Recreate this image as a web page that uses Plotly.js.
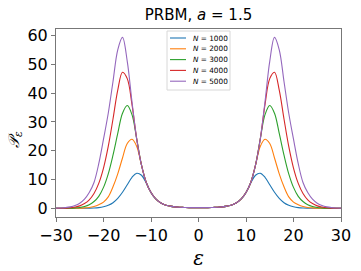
<!DOCTYPE html>
<html><head><meta charset="utf-8">
<script src="https://cdn.plot.ly/plotly-3.0.1.min.js"></script>
<style>html,body{margin:0;padding:0;background:#fff}#chart{width:361px;height:271px}</style>
</head><body><div id="chart"></div>
<script>
const eps = [-30,-29,-28,-27,-26,-25,-24,-23,-22,-21,-20,-19,-18,-17,-16,-15,-14,-13,-12,-11,-10,-9,-8,-7,-6,-5,-4,-3,-2,-1,0,1,2,3,4,5,6,7,8,9,10,11,12,13,14,15,16,17,18,19,20,21,22,23,24,25,26,27,28,29,30];
const nValues = ["1000","2000","3000","4000","5000"];
const colors = ["#1f77b4","#ff7f0e","#2ca02c","#d62728","#9467bd"];
const p1000 = [0.02,0.02,0.03,0.04,0.05,0.06,0.08,0.1,0.15,0.3,0.6,1.1,2.0,3.5,5.6,8.2,10.8,12.2,11.5,8.8,5.5,3.3,2.0,1.2,0.8,0.55,0.4,0.35,0.3,0.3,0.3,0.3,0.3,0.35,0.4,0.55,0.8,1.2,2.0,3.3,5.5,8.8,11.5,12.2,10.8,8.2,5.6,3.5,2.0,1.1,0.6,0.3,0.15,0.1,0.08,0.06,0.05,0.04,0.03,0.02,0.02];
const p2000 = [0.03,0.04,0.05,0.06,0.08,0.1,0.2,0.35,0.7,1.3,2.2,4.0,7.5,12,17.5,22.5,24,21.5,15,9,5.5,3.3,2.0,1.2,0.8,0.55,0.4,0.35,0.3,0.3,0.3,0.3,0.3,0.35,0.4,0.55,0.8,1.2,2.0,3.3,5.5,9,15,21.5,24,22.5,17.5,12,7.5,4.0,2.2,1.3,0.7,0.35,0.2,0.1,0.08,0.06,0.05,0.04,0.03];
const p3000 = [0.04,0.05,0.07,0.1,0.2,0.35,0.7,1.3,2.4,4.2,7.3,12,18.5,26,33,35.7,32.5,24,15,9,5.5,3.3,2.0,1.2,0.8,0.55,0.4,0.35,0.3,0.3,0.3,0.3,0.3,0.35,0.4,0.55,0.8,1.2,2.0,3.3,5.5,9,15,24,32.5,35.7,33,26,18.5,12,7.3,4.2,2.4,1.3,0.7,0.35,0.2,0.1,0.07,0.05,0.04];
const p4000 = [0.05,0.06,0.12,0.25,0.5,0.9,1.7,3.0,5.2,8.7,14,21.5,31,41,47.2,45,36,24,15,9,5.5,3.3,2.0,1.2,0.8,0.55,0.4,0.35,0.3,0.3,0.3,0.3,0.3,0.35,0.4,0.55,0.8,1.2,2.0,3.3,5.5,9,15,24,36,45,47.2,41,31,21.5,14,8.7,5.2,3.0,1.7,0.9,0.5,0.25,0.12,0.06,0.05];
const p5000 = [0.1,0.15,0.3,0.55,1.0,1.8,3.2,5.5,9,15.5,24,33,44,55,59.3,51,37,24,15,9,5.5,3.3,2.0,1.2,0.8,0.55,0.4,0.35,0.3,0.3,0.3,0.3,0.3,0.35,0.4,0.55,0.8,1.2,2.0,3.3,5.5,9,15,24,37,51,59.3,55,44,33,24,15.5,9,5.5,3.2,1.8,1.0,0.55,0.3,0.15,0.1];
const xticks = [-30,-20,-10,0,10,20,30];
const yticks = [0,10,20,30,40,50,60];
const series = [p1000,p2000,p3000,p4000,p5000];

const W = 361, H = 271, ML = 56, MR = 20, MT = 29, MB = 54;
const PW = W - ML - MR, PH = H - MT - MB;
const px2x = p => (p - ML) / PW;
const px2y = p => (H - MB - p) / PH;

const traces = series.map((y,i)=>({
  x: eps, y: y, type:'scatter', mode:'lines', showlegend:false,
  name: 'N = ' + nValues[i],
  line:{color:colors[i], width:1.1, shape:'spline', smoothing:1}
}));

// hand-built legend (matplotlib-style compact legend)
const shapes = [{type:'rect', xref:'paper', yref:'paper', x0:px2x(167), x1:px2x(230), y0:px2y(90), y1:px2y(31),
  line:{color:'#d8d8d8', width:1}, fillcolor:'rgba(255,255,255,0.85)', layer:'above'}];
const annotations = [];
nValues.forEach((n,i)=>{
  const yc = 38 + i*10.8;
  shapes.push({type:'line', xref:'paper', yref:'paper', x0:px2x(170), x1:px2x(186), y0:px2y(yc), y1:px2y(yc),
    line:{color:colors[i], width:1.1}, layer:'above'});
  annotations.push({xref:'paper', yref:'paper', x:px2x(191), y:px2y(yc), xanchor:'left', yanchor:'middle',
    text:'<i>N</i> = ' + n, showarrow:false, font:{family:'DejaVu Sans', size:7.3, color:'#000'}});
});
// y-axis label as rotated annotation for precise placement
annotations.push({xref:'paper', yref:'paper', x:px2x(14), y:px2y(140), xanchor:'center', yanchor:'middle',
  textangle:-90, showarrow:false, text:'<i>𝒫</i><sub><i>ε</i></sub>', font:{family:'DejaVu Serif', size:15, color:'#000'}});

const axisBase = {showgrid:false, zeroline:false, showline:true, mirror:true, linecolor:'#777', linewidth:1,
  ticks:'outside', ticklen:4, tickcolor:'#777', tickfont:{family:'DejaVu Sans', size:16, color:'#000'}};
const layout = {
  width:W, height:H,
  margin:{l:ML, r:MR, t:MT, b:MB},
  paper_bgcolor:'#fff', plot_bgcolor:'#fff',
  title:{text:'PRBM, <i>a</i> = 1.5', xref:'paper', x:0.5, xanchor:'center', yref:'container', y:1-15/H, yanchor:'middle',
    font:{family:'DejaVu Sans', size:15, color:'#000'}},
  xaxis:Object.assign({}, axisBase, {range:[-30,30], tickvals:xticks, ticktext:xticks.map(v=>v<0?'\u2212'+(-v):String(v)),
    title:{text:'<i>ε</i>', font:{family:'DejaVu Serif', size:20, color:'#000'}, standoff:6}}),
  yaxis:Object.assign({}, axisBase, {range:[-2.96,62.2], tickvals:yticks, ticktext:yticks.map(String)}),
  showlegend:false,
  shapes:shapes, annotations:annotations
};
Plotly.newPlot('chart', traces, layout, {displayModeBar:false, staticPlot:true});
</script></body></html>
